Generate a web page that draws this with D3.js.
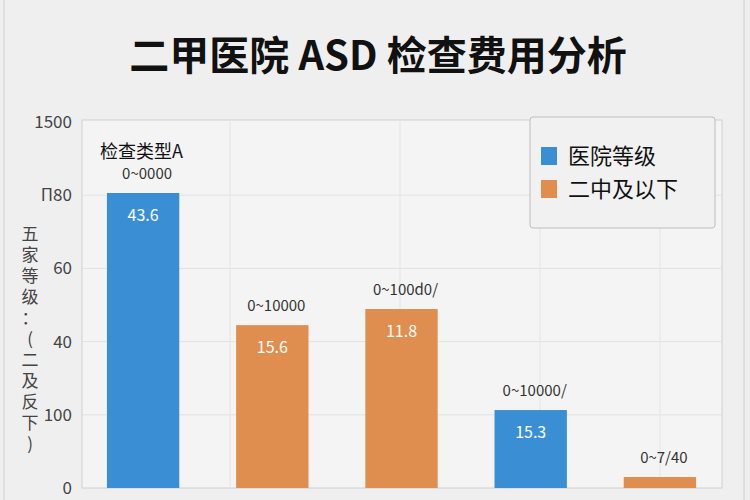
<!DOCTYPE html>
<html><head><meta charset="utf-8">
<script src="https://cdn.jsdelivr.net/npm/d3@7"></script>
<style>body{margin:0;background:#efefef}text{font-family:"Noto Sans CJK SC",sans-serif}</style>
</head><body><div id="chart"></div>
<script>
const categories = ["A1","A2","A3","A4","A5"]
const values = [80.6, 44.5, 48.9, 21.3, 3.0]
const groups = ["医院等级","二中及以下","二中及以下","医院等级","二中及以下"]
const insideLabels = ["43.6","15.6","11.8","15.3",""]
const topLabels = ["0~0000","0~10000","0~100d0/","0~10000/","0~7/40"]
const tickValues = [0,20,40,60,80,100]
const tickLabels = ["0","100","40","60","П80","1500"]
const legendItems = ["医院等级","二中及以下"]

const W = 750, H = 500
const m = {l:82, r:28, t:120, b:12}
const color = d3.scaleOrdinal().domain(legendItems).range(["#3a8fd4","#e08e4f"])

const svg = d3.select("#chart").append("svg").attr("width",W).attr("height",H)
svg.append("rect").attr("width",W).attr("height",H).attr("fill","#efefef")
svg.append("line").attr("x1",4).attr("x2",4).attr("y1",0).attr("y2",H).attr("stroke","#cfcfcf")
svg.append("line").attr("x1",744).attr("x2",744).attr("y1",0).attr("y2",H).attr("stroke","#cfcfcf")

svg.append("text").attr("x",378).attr("y",70).attr("text-anchor","middle")
    .attr("font-size",40).attr("font-weight","bold").attr("fill","#111")
    .text("二甲医院 ASD 检查费用分析")

const x = d3.scaleBand().domain(categories).range([78.5, 724.5]).paddingInner(0.44).paddingOuter(0.22)
const y = d3.scaleLinear().domain([0,100]).range([H-m.b, m.t+2])

const g = svg.append("g")
g.append("rect").attr("x",m.l).attr("y",m.t).attr("width",W-m.r-m.l).attr("height",H-m.b-m.t)
    .attr("fill","#f4f4f4").attr("stroke","#d0d0d0")

g.selectAll(".hg").data(tickValues.slice(1,-1)).join("line")
    .attr("x1",m.l).attr("x2",W-m.r).attr("y1",d=>y(d)).attr("y2",d=>y(d))
    .attr("stroke","#e2e2e2")
g.selectAll(".vg").data([230,400,540,660]).join("line")
    .attr("x1",d=>d).attr("x2",d=>d).attr("y1",m.t).attr("y2",H-m.b).attr("stroke","#e4e4e4")

const yAxis = d3.axisLeft(y).tickValues(tickValues).tickFormat((d,i)=>tickLabels[i]).tickSize(0).tickPadding(10)
g.append("g").attr("transform",`translate(${m.l},0)`).call(yAxis)
    .call(a=>a.select(".domain").remove())
    .selectAll("text").attr("font-size",17).attr("fill","#444")

const yTitle = "五家等级：(二及反下)".split("")
svg.append("g").selectAll("text").data(yTitle).join("text")
    .attr("x",30).attr("y",(d,i)=>240+i*21).attr("text-anchor","middle")
    .attr("font-size",17).attr("fill","#444").text(d=>d)

g.selectAll(".bar").data(values).join("rect")
    .attr("x",(d,i)=>x(categories[i])).attr("width",x.bandwidth())
    .attr("y",d=>y(d)).attr("height",d=>y(0)-y(d))
    .attr("fill",(d,i)=>color(groups[i]))

g.selectAll(".in").data(values).join("text")
    .attr("x",(d,i)=>x(categories[i])+x.bandwidth()/2).attr("y",d=>y(d)+28)
    .attr("text-anchor","middle").attr("font-size",16).attr("fill","#fff")
    .text((d,i)=>insideLabels[i])

g.selectAll(".top").data(values).join("text")
    .attr("x",(d,i)=>x(categories[i])+x.bandwidth()/2+4).attr("y",d=>y(d)-14)
    .attr("text-anchor","middle").attr("font-size",15).attr("fill","#333")
    .text((d,i)=>topLabels[i])

svg.append("text").attr("x",100).attr("y",158).attr("font-size",18).attr("fill","#111")
    .text("检查类型A")

const lg = svg.append("g").attr("transform","translate(530,117)")
lg.append("rect").attr("width",185).attr("height",111).attr("rx",3)
    .attr("fill","#f1f1f1").attr("stroke","#bdbdbd")
lg.selectAll(".sw").data(legendItems).join("rect")
    .attr("x",11).attr("y",(d,i)=>30+i*33).attr("width",16).attr("height",18).attr("fill",d=>color(d))
lg.selectAll(".lt").data(legendItems).join("text")
    .attr("x",38).attr("y",(d,i)=>47+i*33).attr("font-size",22).attr("fill","#111").text(d=>d)
</script></body></html>
